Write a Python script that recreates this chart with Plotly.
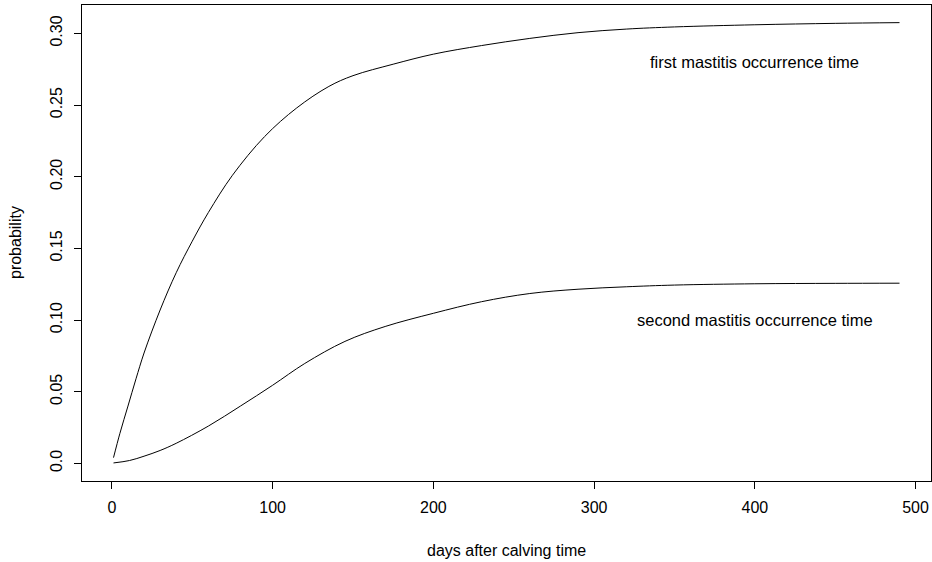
import plotly.graph_objects as go

# ---- data ----
days_first = [1, 5, 10, 15, 20, 30, 40, 50, 60, 75, 95, 115, 135, 150, 175, 200, 230, 260, 290, 320, 350, 400, 450, 490]
prob_first = [0.004, 0.021, 0.040, 0.059, 0.077, 0.107, 0.133, 0.155, 0.175, 0.201, 0.228, 0.248, 0.263, 0.2705, 0.2785, 0.2855, 0.2915, 0.2965, 0.3005, 0.303, 0.3045, 0.306, 0.307, 0.3075]

days_second = [1, 11, 20, 30, 40, 60, 80, 100, 120, 145, 170, 200, 230, 260, 290, 320, 350, 400, 450, 490]
prob_second = [0.0003, 0.002, 0.005, 0.009, 0.014, 0.026, 0.040, 0.0545, 0.0697, 0.0851, 0.0955, 0.1047, 0.1128, 0.1185, 0.1215, 0.1232, 0.1244, 0.1253, 0.1256, 0.1257]

x_ticks = [0, 100, 200, 300, 400, 500]
y_ticks = [0.0, 0.05, 0.10, 0.15, 0.20, 0.25, 0.30]
y_tick_labels = ["0.0", "0.05", "0.10", "0.15", "0.20", "0.25", "0.30"]

label_first = "first mastitis occurrence time"
label_second = "second mastitis occurrence time"
label_pos_x = 400
label_first_y = 0.28
label_second_y = 0.10

FONT = "Liberation Sans, Arial, Helvetica, sans-serif"

fig = go.Figure()
fig.add_trace(go.Scatter(x=days_first, y=prob_first, mode="lines",
                         line=dict(color="black", width=1, shape="spline"),
                         showlegend=False, hoverinfo="skip"))
fig.add_trace(go.Scatter(x=days_second, y=prob_second, mode="lines",
                         line=dict(color="black", width=1, shape="spline"),
                         showlegend=False, hoverinfo="skip"))

fig.add_annotation(x=label_pos_x, y=label_first_y, text=label_first, showarrow=False,
                   font=dict(size=16.5, color="black", family=FONT), xanchor="center", yanchor="middle")
fig.add_annotation(x=label_pos_x, y=label_second_y, text=label_second, showarrow=False,
                   font=dict(size=16.5, color="black", family=FONT), xanchor="center", yanchor="middle")

# axis titles
fig.add_annotation(xref="paper", yref="paper", x=0.5, y=0, yshift=-69,
                   text="days after calving time", showarrow=False,
                   font=dict(size=16, color="black", family=FONT), xanchor="center", yanchor="middle")
fig.add_annotation(xref="paper", yref="paper", x=0, y=0.5, xshift=-67,
                   text="probability", showarrow=False, textangle=-90,
                   font=dict(size=16, color="black", family=FONT), xanchor="center", yanchor="middle")

fig.update_xaxes(range=[-18.6, 509.6], tickvals=x_ticks, ticks="outside", ticklen=7,
                 tickcolor="black", tickwidth=1, showline=True, mirror=True, linecolor="black",
                 linewidth=1, showgrid=False, zeroline=False, ticklabelstandoff=5,
                 automargin=False,
                 tickfont=dict(size=16, color="black", family=FONT))
fig.update_yaxes(range=[-0.0123, 0.3198], tickvals=y_ticks, ticktext=y_tick_labels,
                 ticks="outside", ticklen=7, tickcolor="black", tickwidth=1, tickangle=-90,
                 showline=True, mirror=True, linecolor="black", linewidth=1,
                 showgrid=False, zeroline=False, ticklabelstandoff=6,
                 automargin=False,
                 tickfont=dict(size=16, color="black", family=FONT))

fig.update_layout(width=932, height=562, margin=dict(l=82, r=1, t=5, b=81),
                  plot_bgcolor="white", paper_bgcolor="white",
                  font=dict(family=FONT, size=16, color="black"))

fig.write_html("out.html", config={"displayModeBar": False, "staticPlot": True},
               post_script="document.body.style.margin='0';document.body.style.overflow='hidden';")
